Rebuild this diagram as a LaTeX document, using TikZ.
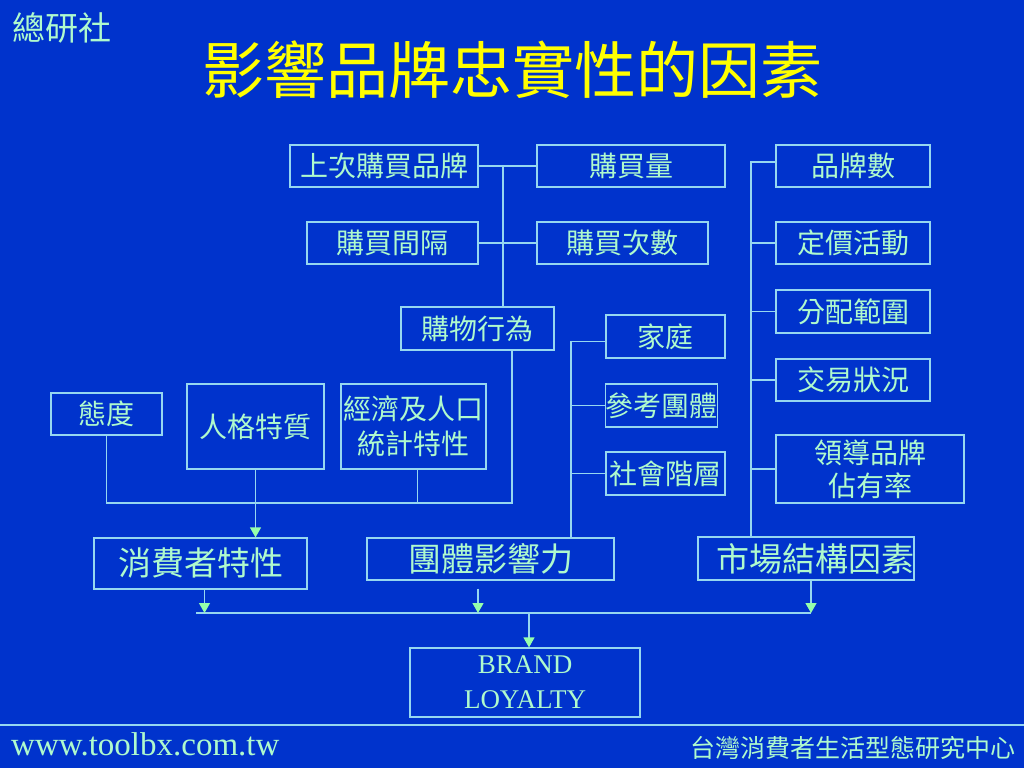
\documentclass[tikz,border=0pt]{standalone}
\usepackage{fontspec}
\setmainfont{Liberation Serif}
\newfontfamily\cjk{Noto Sans CJK TC}
\usetikzlibrary{arrows.meta}
\definecolor{bg}{RGB}{0,51,204}
\definecolor{ln}{RGB}{150,215,240}
\definecolor{tx}{RGB}{175,250,205}
\definecolor{ttl}{RGB}{255,255,0}
\definecolor{arr}{RGB}{150,255,170}
\begin{document}
\begin{tikzpicture}[x=1pt,y=-1pt,
  box/.style={draw=ln, line width=1.2pt, text=tx, inner sep=0pt, align=center,
    font=\cjk\fontsize{28}{34}\selectfont},
  bigbox/.style={box, font=\cjk\fontsize{33}{38}\selectfont},
  conn/.style={draw=ln, line width=1.2pt},
  arw/.style={conn, -{Triangle[width=11pt,length=10pt,color=arr]}}]
\fill[bg] (0,0) rectangle (1024,768);
\useasboundingbox (0,0) rectangle (1024,768);

% header
\node[text=tx, font=\cjk\fontsize{33}{40}\selectfont] (logo) at (62,28) {總研社};
\node[text=ttl, font=\cjk\fontsize{62}{70}\selectfont] (title) at (512,70) {影響品牌忠實性的因素};

% purchase behaviour group
\node[box, minimum width=188pt, minimum height=42pt] (lastbrand) at (384,166) {上次購買品牌};
\node[box, minimum width=188pt, minimum height=42pt] (qty) at (631,166) {購買量};
\node[box, minimum width=171pt, minimum height=42pt] (interval) at (392.5,243) {購買間隔};
\node[box, minimum width=171pt, minimum height=42pt] (freq) at (622.5,243) {購買次數};
\node[box, minimum width=153pt, minimum height=43pt] (shop) at (477.5,328.5) {購物行為};

% group influence
\node[box, minimum width=119pt, minimum height=43pt] (family) at (665.5,336.5) {家庭};
\node[box, minimum width=111pt, minimum height=43pt] (refgroup) at (661.5,405.5) {參考團體};
\node[box, minimum width=119pt, minimum height=43pt] (social) at (665.5,473.5) {社會階層};

% consumer traits
\node[box, minimum width=111pt, minimum height=42pt] (attitude) at (106.5,414) {態度};
\node[box, minimum width=137pt, minimum height=85pt] (personality) at (255.5,426.5) {人格特質};
\node[box, minimum width=145pt, minimum height=85pt, font=\cjk\fontsize{28}{35}\selectfont] (econ) at (413.5,426.5) {經濟及人口\\統計特性};

% market structure
\node[box, minimum width=154pt, minimum height=42pt] (brandcount) at (853,166) {品牌數};
\node[box, minimum width=154pt, minimum height=42pt] (pricing) at (853,243) {定價活動};
\node[box, minimum width=154pt, minimum height=43pt] (distrib) at (853,311.5) {分配範圍};
\node[box, minimum width=154pt, minimum height=42pt] (trade) at (853,380) {交易狀況};
\node[box, minimum width=188pt, minimum height=68pt, font=\cjk\fontsize{28}{33}\selectfont] (leader) at (870,469) {領導品牌\\佔有率};

% main factors
\node[bigbox, minimum width=213pt, minimum height=51pt] (consumer) at (200.5,563.5) {消費者特性};
\node[bigbox, minimum width=247pt, minimum height=42pt] (group) at (490.5,559) {團體影響力};
\node[bigbox, minimum width=214pt, minimum height=43pt] (market) at (806,558.5) {\hspace*{18pt}市場結構因素};

\node[box, minimum width=230pt, minimum height=69pt, font=\fontsize{27}{35}\selectfont] (brand) at (525,682.5) {BRAND\\LOYALTY};

% trunks
\coordinate (tA) at (503,0);
\coordinate (tB) at (512,503);
\coordinate (tC) at (571,0);
\coordinate (tD) at (751,0);
\coordinate (bL) at (196,613);
\coordinate (bR) at (811,613);

% purchase behaviour connectors
\draw[conn] (lastbrand.east) -- (qty.west);
\draw[conn] (interval.east) -- (freq.west);
\draw[conn] (lastbrand.east -| tA) -- (shop.north -| tA);

% consumer traits connectors
\draw[conn] (shop.south -| tB) -- (tB) -- (tB -| attitude.south) -- (attitude.south);
\draw[conn] ([xshift=4pt]econ.south) -- ([xshift=4pt]econ.south |- tB);
\draw[arw] (personality.south) -- (personality.south |- consumer.north);

% group connectors
\draw[conn] ([yshift=-5pt]family.west) -| (tC |- group.north);
\draw[conn] (refgroup.west) -- (refgroup.west -| tC);
\draw[conn] (social.west) -- (social.west -| tC);

% market connectors
\draw[conn] ([yshift=4pt]brandcount.west) -| (tD |- market.north);
\draw[conn] (pricing.west) -- (pricing.west -| tD);
\draw[conn] (distrib.west) -- (distrib.west -| tD);
\draw[conn] (trade.west) -- (trade.west -| tD);
\draw[conn] (leader.west) -- (leader.west -| tD);

% to brand loyalty
\draw[conn] (bL) -- (bR);
\draw[arw] ([xshift=4pt]consumer.south) -- ([xshift=4pt]consumer.south |- bL);
\draw[arw] ([xshift=-12.5pt,yshift=-8pt]group.south) -- ([xshift=-12.5pt]group.south |- bL);
\draw[arw] ([xshift=5pt]market.south) -- ([xshift=5pt]market.south |- bL);
\draw[arw] ([xshift=4pt]brand.north |- bL) -- ([xshift=4pt]brand.north);

% footer
\draw[ln, line width=2pt] (0,725) -- (1024,725);
\node[anchor=base west, text=tx, inner sep=0pt, font=\fontsize{33}{40}\selectfont] (url) at (11,755) {www.toolbx.com.tw};
\node[anchor=east, text=tx, inner sep=0pt, font=\cjk\fontsize{25}{30}\selectfont] (org) at (1016,748) {台灣消費者生活型態研究中心};
\end{tikzpicture}
\end{document}
